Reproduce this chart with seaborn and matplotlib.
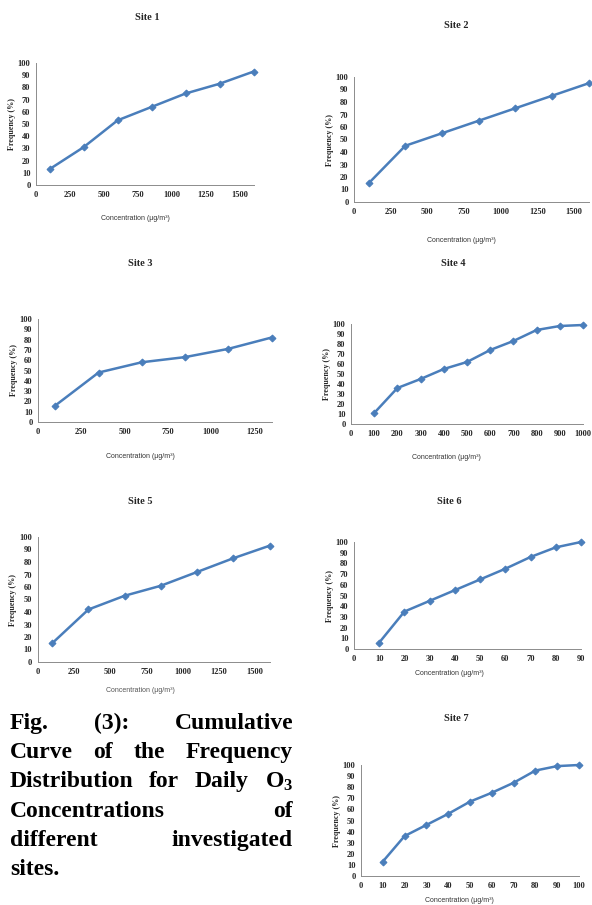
import matplotlib
matplotlib.use("Agg")
import matplotlib.pyplot as plt
import seaborn as sns
import pandas as pd

W, H = 592, 905

# data
conc_1 = [100, 350, 600, 850, 1100, 1350, 1600]
freq_1 = [13, 31, 53, 64, 75, 83, 93]
conc_2 = [100, 350, 600, 850, 1100, 1350, 1600]
freq_2 = [15, 45, 55, 65, 75, 85, 95]
conc_3 = [100, 350, 600, 850, 1100, 1350]
freq_3 = [16, 48, 58, 63, 71, 82]
conc_4 = [100, 200, 300, 400, 500, 600, 700, 800, 900, 1000]
freq_4 = [11, 36, 45, 55, 62, 74, 83, 94, 98, 99]
conc_5 = [100, 350, 600, 850, 1100, 1350, 1600]
freq_5 = [15, 42, 53, 61, 72, 83, 93]
conc_6 = [10, 20, 30, 40, 50, 60, 70, 80, 90]
freq_6 = [6, 35, 45, 55, 65, 75, 86, 95, 100]
conc_7 = [10, 20, 30, 40, 50, 60, 70, 80, 90, 100]
freq_7 = [13, 36, 46, 56, 67, 75, 84, 95, 99, 100]

xticks_big = [0, 250, 500, 750, 1000, 1250, 1500]
xticks_3 = [0, 250, 500, 750, 1000, 1250]
xticks_4 = [0, 100, 200, 300, 400, 500, 600, 700, 800, 900, 1000]
xticks_6 = [0, 10, 20, 30, 40, 50, 60, 70, 80, 90]
xticks_7 = [0, 10, 20, 30, 40, 50, 60, 70, 80, 90, 100]
yticks = [0, 10, 20, 30, 40, 50, 60, 70, 80, 90, 100]

sns.set_style("white")
plt.rcParams["font.family"] = ["Liberation Serif", "DejaVu Serif"]
plt.rcParams["mathtext.fontset"] = "custom"
plt.rcParams["mathtext.rm"] = "Liberation Serif:bold"
plt.rcParams["mathtext.it"] = "Liberation Serif:bold"
plt.rcParams["mathtext.bf"] = "Liberation Serif:bold"

fig = plt.figure(figsize=(W / 100, H / 100), dpi=100)
blue = "#4a7ebb"
grey = "#8c8c8c"

# name, x, y, xmax, ticks, axes px (left, top, right, bottom), title px, xlabel px
panels = [
    ("Site 1", conc_1, freq_1, 1600, xticks_big, (36, 63, 253.6, 185), (147, 18), (135, 219)),
    ("Site 2", conc_2, freq_2, 1600, xticks_big, (354, 77, 588.7, 202), (456, 25), (461, 240)),
    ("Site 3", conc_3, freq_3, 1350, xticks_3, (38, 319, 271.5, 422), (140, 264), (140, 456)),
    ("Site 4", conc_4, freq_4, 1000, xticks_4, (351, 324, 583, 424), (453, 264), (446, 457)),
    ("Site 5", conc_5, freq_5, 1600, xticks_big, (37.7, 537, 269.5, 662), (140, 502), (140, 690)),
    ("Site 6", conc_6, freq_6, 90, xticks_6, (354, 542, 581, 649), (449, 501), (449, 673)),
    ("Site 7", conc_7, freq_7, 100, xticks_7, (361, 765, 579, 876), (456, 718), (459, 900)),
]

for name, xs, ys, xmax, ticks, box, tpos, lpos in panels:
    l, t, r, b = box
    ax = fig.add_axes([l / W, 1 - b / H, (r - l) / W, (b - t) / H])
    df = pd.DataFrame({"conc": xs, "freq": ys})
    sns.lineplot(data=df, x="conc", y="freq", ax=ax, color=blue, linewidth=1.8,
                 marker="D", markersize=3.5, markeredgecolor=blue, clip_on=False)
    ax.set_xlim(0, xmax)
    ax.set_ylim(0, 100)
    ax.set_xticks(ticks)
    ax.set_yticks(yticks)
    ax.tick_params(axis="both", labelsize=6, length=2.5, width=0.6, color=grey, pad=1.5)
    for lab in ax.get_xticklabels() + ax.get_yticklabels():
        lab.set_fontweight("bold")
    ax.set_xlabel("")
    ax.set_ylabel("Frequency (%)", fontsize=5.8, fontweight="bold", labelpad=1.5)
    for s in ["top", "right"]:
        ax.spines[s].set_visible(False)
    for s in ["left", "bottom"]:
        ax.spines[s].set_color(grey)
        ax.spines[s].set_linewidth(0.7)
    ax.set_facecolor("none")
    fig.text(tpos[0] / W, 1 - tpos[1] / H, name, ha="center", va="center",
             fontsize=7.5, fontweight="bold")
    lcol = "#555555" if name == "Site 5" else "#333333"
    fig.text(lpos[0] / W, 1 - lpos[1] / H, "Concentration (µg/m³)", ha="center",
             va="center", fontsize=5, family=["Liberation Sans", "DejaVu Sans"], color=lcol)

# justified caption on the left
caption = [
    ["Fig.", "(3):", "Cumulative"],
    ["Curve", "of", "the", "Frequency"],
    ["Distribution", "for", "Daily", "O$_3$"],
    ["Concentrations", "of"],
    ["different", "investigated"],
    ["sites."],
]
x0, x1 = 10, 293
base0, pitch = 729, 29.2
renderer = fig.canvas.get_renderer()
for i, words in enumerate(caption):
    yb = 1 - (base0 + i * pitch) / H
    objs = [fig.text(0, yb, w, ha="left", va="baseline", fontsize=17,
                     fontweight="bold", color="black") for w in words]
    widths = [o.get_window_extent(renderer).width for o in objs]
    if len(objs) == 1:
        objs[0].set_x(x0 / W)
        continue
    gap = (x1 - x0 - sum(widths)) / (len(objs) - 1)
    x = x0
    for o, wd in zip(objs, widths):
        o.set_x(x / W)
        x += wd + gap

fig.savefig("out.png", dpi=100)
